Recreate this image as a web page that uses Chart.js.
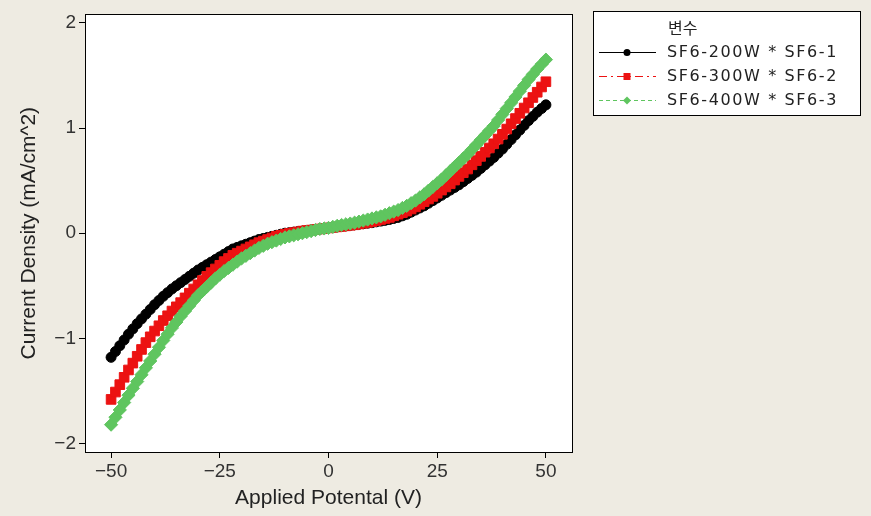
<!DOCTYPE html>
<html>
<head>
<meta charset="utf-8">
<title>Current Density vs Applied Potential</title>
<script src="https://cdn.jsdelivr.net/npm/chart.js@4.4.1/dist/chart.umd.min.js"></script>
<style>
  html, body { margin: 0; padding: 0; background: #eeebe2; }
  #wrap { width: 871px; height: 516px; position: relative; }
</style>
</head>
<body>
<div id="wrap"><canvas id="iv"></canvas></div>
<script>
// 전압 (V), 1V 간격
var voltage = [
  -50, -49, -48, -47, -46, -45, -44, -43, -42, -41, -40, -39, -38, -37, -36, -35, -34,
  -33, -32, -31, -30, -29, -28, -27, -26, -25, -24, -23, -22, -21, -20, -19, -18, -17,
  -16, -15, -14, -13, -12, -11, -10, -9, -8, -7, -6, -5, -4, -3, -2, -1, 0,
  1, 2, 3, 4, 5, 6, 7, 8, 9, 10, 11, 12, 13, 14, 15, 16, 17,
  18, 19, 20, 21, 22, 23, 24, 25, 26, 27, 28, 29, 30, 31, 32, 33, 34,
  35, 36, 37, 38, 39, 40, 41, 42, 43, 44, 45, 46, 47, 48, 49, 50
];

// 전류 밀도 (mA/cm^2) — 그림에서 읽은 값
var sf6_200 = [
  -1.18, -1.125, -1.07, -1.015, -0.96, -0.91, -0.86, -0.815, -0.77, -0.725, -0.68, -0.64, -0.60,
  -0.565, -0.53, -0.50, -0.47, -0.44, -0.41, -0.38, -0.35, -0.325, -0.30, -0.275, -0.25, -0.225,
  -0.20, -0.175, -0.15, -0.135, -0.12, -0.105, -0.09, -0.075, -0.06, -0.05, -0.04, -0.03, -0.02,
  -0.01, 0.00, 0.005, 0.01, 0.015, 0.02, 0.025, 0.03, 0.035, 0.04, 0.045, 0.05,
  0.055, 0.06, 0.065, 0.07, 0.075, 0.08, 0.085, 0.09, 0.095, 0.10, 0.108, 0.115, 0.122,
  0.13, 0.14, 0.15, 0.165, 0.18, 0.20, 0.22, 0.24, 0.26, 0.285, 0.31, 0.335, 0.36, 0.385,
  0.41, 0.435, 0.46, 0.49, 0.52, 0.55, 0.58, 0.615, 0.65, 0.685, 0.72, 0.76, 0.80, 0.845,
  0.89, 0.935, 0.98, 1.025, 1.07, 1.11, 1.15, 1.185, 1.22
];
var sf6_300 = [
  -1.58, -1.51, -1.44, -1.37, -1.30, -1.235, -1.17, -1.105, -1.04, -0.985, -0.93, -0.88, -0.83,
  -0.785, -0.74, -0.70, -0.66, -0.615, -0.57, -0.53, -0.49, -0.45, -0.41, -0.375, -0.34, -0.305,
  -0.27, -0.24, -0.21, -0.19, -0.17, -0.15, -0.13, -0.11, -0.09, -0.075, -0.06, -0.045, -0.03,
  -0.02, -0.01, -0.002, 0.005, 0.012, 0.02, 0.025, 0.03, 0.035, 0.04, 0.045, 0.05,
  0.055, 0.06, 0.065, 0.07, 0.075, 0.08, 0.088, 0.095, 0.102, 0.11, 0.12, 0.13, 0.14,
  0.15, 0.165, 0.18, 0.195, 0.21, 0.23, 0.25, 0.275, 0.30, 0.325, 0.35, 0.38, 0.41, 0.44,
  0.47, 0.505, 0.54, 0.575, 0.61, 0.65, 0.69, 0.73, 0.77, 0.81, 0.85, 0.895, 0.94, 0.99,
  1.04, 1.09, 1.14, 1.19, 1.24, 1.29, 1.34, 1.39, 1.44
];
var sf6_400 = [
  -1.82, -1.75, -1.68, -1.61, -1.54, -1.475, -1.41, -1.345, -1.28, -1.215, -1.15, -1.085, -1.02,
  -0.96, -0.90, -0.845, -0.79, -0.74, -0.69, -0.64, -0.59, -0.55, -0.51, -0.47, -0.43, -0.395,
  -0.36, -0.33, -0.30, -0.27, -0.24, -0.215, -0.19, -0.165, -0.14, -0.12, -0.10, -0.085, -0.07,
  -0.055, -0.04, -0.03, -0.02, -0.01, 0.00, 0.01, 0.02, 0.03, 0.04, 0.045, 0.05,
  0.06, 0.07, 0.078, 0.085, 0.092, 0.10, 0.11, 0.12, 0.13, 0.14, 0.15, 0.16, 0.175,
  0.19, 0.205, 0.22, 0.24, 0.26, 0.285, 0.31, 0.34, 0.37, 0.405, 0.44, 0.475, 0.51, 0.55,
  0.59, 0.63, 0.67, 0.71, 0.75, 0.795, 0.84, 0.885, 0.93, 0.975, 1.02, 1.075, 1.13, 1.185,
  1.24, 1.295, 1.35, 1.405, 1.46, 1.51, 1.56, 1.605, 1.65
];

var seriesNames = ['SF6-200W * SF6-1', 'SF6-300W * SF6-2', 'SF6-400W * SF6-3'];
var seriesColors = ['#000000', '#ec1212', '#5fc55f'];
var legendTitle = '변수';
var xTicks = [-50, -25, 0, 25, 50];
var yTicks = [-2, -1, 0, 1, 2];

function toPoints(ys) {
  return voltage.map(function (v, i) { return { x: v, y: ys[i] }; });
}

function fmt(v) {
  return v < 0 ? '\u2212' + Math.abs(v) : String(v);
}

var FONT = "'Liberation Sans', Arial, sans-serif";
var INK = '#333333';

// 플롯 배경/테두리 + 오른쪽 범례 상자
var framePlugin = {
  id: 'frame',
  beforeDraw: function (chart) {
    var ctx = chart.ctx, a = chart.chartArea;
    ctx.save();
    ctx.fillStyle = '#eeebe2';
    ctx.fillRect(0, 0, chart.width, chart.height);
    ctx.fillStyle = '#ffffff';
    ctx.fillRect(a.left, a.top, a.right - a.left, a.bottom - a.top);
    ctx.restore();
  },
  afterDraw: function (chart) {
    var ctx = chart.ctx, a = chart.chartArea;
    ctx.save();
    ctx.strokeStyle = '#000';
    ctx.lineWidth = 1;
    ctx.strokeRect(Math.round(a.left) + 0.5, Math.round(a.top) + 0.5,
      Math.round(a.right - a.left), Math.round(a.bottom - a.top));

    // 범례
    var bx = 593.5, by = 11.5, bw = 267, bh = 104;
    ctx.fillStyle = '#ffffff';
    ctx.fillRect(bx, by, bw, bh);
    ctx.strokeRect(bx, by, bw, bh);

    ctx.fillStyle = '#222';
    ctx.textBaseline = 'middle';
    ctx.textAlign = 'left';
    ctx.font = "16px 'Noto Sans CJK KR', sans-serif";
    ctx.fillText(legendTitle, 668, 28);

    var rowsY = [52, 76, 100];
    var dashes = [[], [8, 4, 2, 4], [4, 3]];
    ctx.font = "16px 'DejaVu Sans', sans-serif";
    if ('letterSpacing' in ctx) ctx.letterSpacing = '1.6px';
    for (var i = 0; i < 3; i++) {
      var y = rowsY[i] + 0.5;
      ctx.strokeStyle = seriesColors[i];
      ctx.lineWidth = 1;
      ctx.setLineDash(dashes[i]);
      ctx.beginPath();
      ctx.moveTo(599, y);
      ctx.lineTo(656, y);
      ctx.stroke();
      ctx.setLineDash([]);
      ctx.fillStyle = seriesColors[i];
      ctx.beginPath();
      if (i === 0) {
        ctx.arc(627, y, 3.5, 0, Math.PI * 2);
      } else if (i === 1) {
        ctx.rect(623.5, y - 3.5, 7, 7);
      } else {
        ctx.moveTo(627, y - 4); ctx.lineTo(631, y); ctx.lineTo(627, y + 4); ctx.lineTo(623, y);
        ctx.closePath();
      }
      ctx.fill();
      ctx.fillStyle = '#222';
      ctx.fillText(seriesNames[i], 667, rowsY[i] + 1);
    }
    ctx.restore();
  }
};

function makeSet(idx, data, style, radius, dash, order) {
  return {
    label: seriesNames[idx],
    data: toPoints(data),
    borderColor: seriesColors[idx],
    backgroundColor: seriesColors[idx],
    pointBackgroundColor: seriesColors[idx],
    pointBorderColor: seriesColors[idx],
    pointBorderWidth: 1,
    pointStyle: style,
    pointRadius: radius,
    borderWidth: 1.5,
    borderDash: dash,
    showLine: true,
    tension: 0,
    order: order
  };
}

new Chart(document.getElementById('iv').getContext('2d'), {
  type: 'line',
  data: {
    datasets: [
      makeSet(0, sf6_200, 'circle', 5.0, [], 2),
      makeSet(1, sf6_300, 'rect', 6.8, [8, 4, 2, 4], 1),
      makeSet(2, sf6_400, 'rectRot', 6.6, [4, 3], 0)
    ]
  },
  options: {
    responsive: true,
    maintainAspectRatio: false,
    animation: false,
    layout: { padding: { left: 0, right: 299, top: 12, bottom: 0 } },
    plugins: {
      legend: { display: false },
      tooltip: { enabled: false }
    },
    scales: {
      x: {
        type: 'linear',
        min: -56,
        max: 56,
        afterBuildTicks: function (s) { s.ticks = xTicks.map(function (v) { return { value: v }; }); },
        afterFit: function (s) { s.height = 64; },
        border: { display: false },
        grid: { drawOnChartArea: false, drawTicks: true, tickLength: 6, color: '#000' },
        ticks: {
          color: INK, padding: 2, maxRotation: 0,
          font: { family: FONT, size: 19 },
          callback: function (v) { return fmt(v); }
        },
        title: {
          display: true, text: 'Applied Potental (V)', color: '#222',
          font: { family: FONT, size: 21 },
          padding: { top: 0, bottom: 5 }
        }
      },
      y: {
        type: 'linear',
        min: -2.08,
        max: 2.08,
        afterBuildTicks: function (s) { s.ticks = yTicks.map(function (v) { return { value: v }; }); },
        afterFit: function (s) { s.width = 85; },
        border: { display: false },
        grid: { drawOnChartArea: false, drawTicks: true, tickLength: 6, color: '#000' },
        ticks: {
          color: INK, padding: 3,
          font: { family: FONT, size: 19 },
          callback: function (v) { return fmt(v); }
        },
        title: {
          display: true, text: 'Current Density (mA/cm^2)', color: '#222',
          font: { family: FONT, size: 21 },
          padding: { top: 17, bottom: 0 }
        }
      }
    }
  },
  plugins: [framePlugin]
});
</script>
</body>
</html>
